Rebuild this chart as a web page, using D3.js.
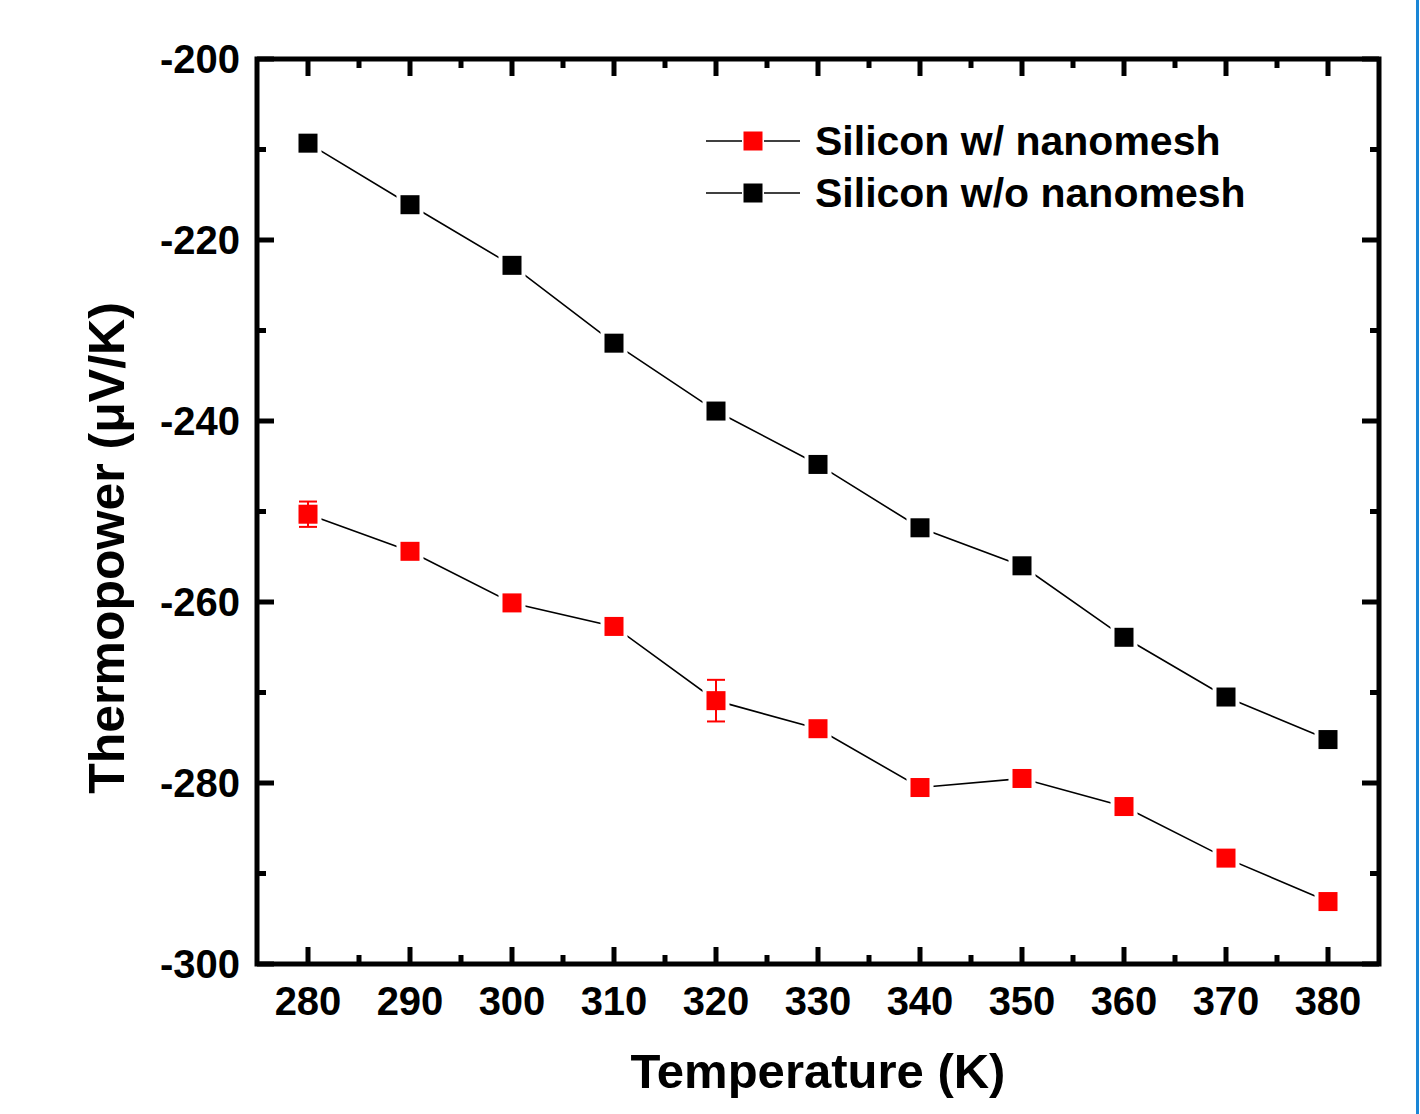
<!DOCTYPE html>
<html>
<head>
<meta charset="utf-8">
<script src="https://d3js.org/d3.v7.min.js"></script>
<style>
  body { margin: 0; background: #fff; }
  text { font-family: "Liberation Sans", Arial, sans-serif; font-weight: bold; }
</style>
</head>
<body>
<div class="chart"></div>
<script>
// values
var temps = [280, 290, 300, 310, 320, 330, 340, 350, 360, 370, 380];
var withMesh = [-250.3, -254.4, -260.1, -262.7, -270.9, -274.0, -280.5, -279.5, -282.6, -288.3, -293.1];
var withMeshErr = [1.4, 0.3, 0.3, 0.3, 2.3, 0.3, 0.3, 0.3, 0.3, 0.3, 0.3];
var withoutMesh = [-209.3, -216.1, -222.8, -231.4, -238.9, -244.8, -251.8, -256.0, -263.9, -270.5, -275.2];
var xTicks = [280, 290, 300, 310, 320, 330, 340, 350, 360, 370, 380];
var yTicks = [-200, -220, -240, -260, -280, -300];
var seriesNames = ["Silicon w/ nanomesh", "Silicon w/o nanomesh"];
var seriesColors = ["#ff0000", "#000000"];

var W = 1420, H = 1114;
var pLeft = 257, pRight = 1379, pTop = 59, pBottom = 964;

var svg = d3.select(".chart").append("svg")
    .attr("width", W)
    .attr("height", H);

var x = d3.scaleLinear().domain([275, 385]).range([pLeft, pRight]);
var y = d3.scaleLinear().domain([-300, -200]).range([pBottom, pTop]);

// blue strip at right edge
svg.append("rect")
    .attr("x", 1416).attr("y", 0)
    .attr("width", 3).attr("height", H)
    .attr("fill", "#1a86d6");

// ticks (inward, on all four sides)
var minorX = d3.range(285, 385, 10);
var minorY = d3.range(-290, -200, 20);

function tickLines(vals, len, horizontal) {
  vals.forEach(function(v) {
    if (horizontal) {
      svg.append("line").attr("x1", x(v)).attr("x2", x(v))
        .attr("y1", pBottom).attr("y2", pBottom - len)
        .attr("stroke", "#000").attr("stroke-width", 5);
      svg.append("line").attr("x1", x(v)).attr("x2", x(v))
        .attr("y1", pTop).attr("y2", pTop + len)
        .attr("stroke", "#000").attr("stroke-width", 5);
    } else {
      svg.append("line").attr("y1", y(v)).attr("y2", y(v))
        .attr("x1", pLeft).attr("x2", pLeft + len)
        .attr("stroke", "#000").attr("stroke-width", 5);
      svg.append("line").attr("y1", y(v)).attr("y2", y(v))
        .attr("x1", pRight).attr("x2", pRight - len)
        .attr("stroke", "#000").attr("stroke-width", 5);
    }
  });
}
tickLines(xTicks, 17, true);
tickLines(minorX, 9, true);
tickLines(yTicks, 17, false);
tickLines(minorY, 9, false);

// frame
svg.append("rect")
    .attr("x", pLeft).attr("y", pTop)
    .attr("width", pRight - pLeft).attr("height", pBottom - pTop)
    .attr("fill", "none")
    .attr("stroke", "#000")
    .attr("stroke-width", 5);

// tick labels
svg.selectAll(".xlab")
    .data(xTicks)
    .enter().append("text")
    .attr("class", "xlab")
    .attr("x", function(d) { return x(d); })
    .attr("y", 1015)
    .attr("text-anchor", "middle")
    .style("font-size", "40px")
    .text(function(d) { return d; });

svg.selectAll(".ylab")
    .data(yTicks)
    .enter().append("text")
    .attr("class", "ylab")
    .attr("x", 240)
    .attr("y", function(d) { return y(d) + 14; })
    .attr("text-anchor", "end")
    .style("font-size", "40px")
    .text(function(d) { return d; });

// axis titles
svg.append("text")
    .attr("x", 818)
    .attr("y", 1088)
    .attr("text-anchor", "middle")
    .style("font-size", "49px")
    .text("Temperature (K)");

svg.append("text")
    .attr("transform", "translate(124,548) rotate(-90)")
    .attr("text-anchor", "middle")
    .style("font-size", "50px")
    .text("Thermopower (\u03bcV/K)");

// series
var series = [
  { vals: withMesh, err: withMeshErr, color: seriesColors[0] },
  { vals: withoutMesh, err: null, color: seriesColors[1] }
];

var line = d3.line()
    .x(function(d, i) { return x(temps[i]); })
    .y(function(d) { return y(d); });

var ms = 19;

series.forEach(function(s) {
  svg.append("path")
      .datum(s.vals)
      .attr("d", line)
      .attr("fill", "none")
      .attr("stroke", "#000")
      .attr("stroke-width", 1.6);

  // white halo so the line stops short of each marker
  svg.selectAll(null)
      .data(s.vals)
      .enter().append("rect")
      .attr("x", function(d, i) { return x(temps[i]) - ms / 2 - 4; })
      .attr("y", function(d) { return y(d) - ms / 2 - 4; })
      .attr("width", ms + 8)
      .attr("height", ms + 8)
      .attr("fill", "#fff");

  if (s.err) {
    var g = svg.append("g").attr("stroke", s.color).attr("stroke-width", 2);
    s.vals.forEach(function(d, i) {
      var cx = x(temps[i]), y1 = y(d + s.err[i]), y2 = y(d - s.err[i]);
      g.append("line").attr("x1", cx).attr("x2", cx).attr("y1", y1).attr("y2", y2);
      g.append("line").attr("x1", cx - 9).attr("x2", cx + 9).attr("y1", y1).attr("y2", y1);
      g.append("line").attr("x1", cx - 9).attr("x2", cx + 9).attr("y1", y2).attr("y2", y2);
    });
  }

  svg.selectAll(null)
      .data(s.vals)
      .enter().append("rect")
      .attr("x", function(d, i) { return x(temps[i]) - ms / 2; })
      .attr("y", function(d) { return y(d) - ms / 2; })
      .attr("width", ms)
      .attr("height", ms)
      .attr("fill", s.color);
});

// legend
var legend = svg.append("g");
seriesNames.forEach(function(name, i) {
  var ly = 141 + i * 52;
  legend.append("line").attr("x1", 706).attr("x2", 742).attr("y1", ly).attr("y2", ly)
    .attr("stroke", "#000").attr("stroke-width", 1.6);
  legend.append("line").attr("x1", 764).attr("x2", 800).attr("y1", ly).attr("y2", ly)
    .attr("stroke", "#000").attr("stroke-width", 1.6);
  legend.append("rect")
    .attr("x", 753 - ms / 2).attr("y", ly - ms / 2)
    .attr("width", ms).attr("height", ms)
    .attr("fill", seriesColors[i]);
  legend.append("text")
    .attr("x", 815).attr("y", ly + 14)
    .style("font-size", "41px")
    .text(name);
});
</script>
</body>
</html>
